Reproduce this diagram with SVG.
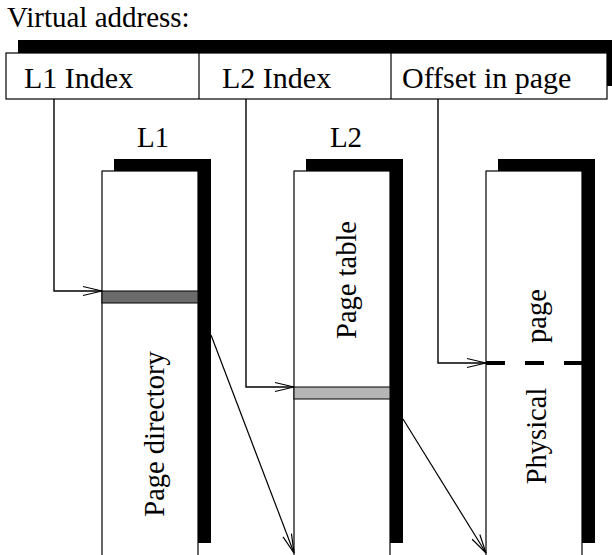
<svg xmlns="http://www.w3.org/2000/svg" width="612" height="555" viewBox="0 0 612 555">
  <style>
    .lbl { font-size: 29px; fill: #000; }
    .field { font-size: 30px; fill: #000; }
    .side { font-size: 28.5px; fill: #000; }
    .shadow { fill: #000; stroke: none; }
    .box { fill: #fff; stroke: #000; stroke-width: 1.2; }
    .wire { fill: none; stroke: #000; stroke-width: 1.4; }
    .diag { fill: none; stroke: #000; stroke-width: 1.2; }
  </style>
  <defs>
    <marker id="open-arrow" markerUnits="userSpaceOnUse" markerWidth="24" markerHeight="14" viewBox="-20 -7 24 14" refX="0" refY="0" orient="auto" overflow="visible">
      <path d="M-19,-4.5 L0,0 L-19,4.5" fill="none" stroke="#000" stroke-width="1.2"/>
    </marker>
  </defs>
  <rect width="612" height="555" fill="#fff"/>

  <g font-family="'Liberation Serif', 'Times New Roman', Times, serif">
  <text class="lbl" x="7" y="27">Virtual address:</text>

  <!-- virtual address register -->
  <g id="address">
    <rect class="shadow" x="18" y="40" width="610" height="46"/>
    <rect class="box" x="6" y="53" width="601" height="46"/>
    <line x1="199" y1="53" x2="199" y2="99" stroke="#000" stroke-width="1.2"/>
    <line x1="391" y1="53" x2="391" y2="99" stroke="#000" stroke-width="1.2"/>
    <text class="field" x="24" y="88">L1 Index</text>
    <text class="field" x="222" y="88">L2 Index</text>
    <text class="field" x="402" y="88">Offset in page</text>
  </g>

  <!-- level 1: page directory -->
  <g id="page-directory">
    <text class="lbl" x="153" y="147" text-anchor="middle">L1</text>
    <rect class="shadow" x="114" y="159" width="97" height="384"/>
    <rect class="box" x="102" y="171" width="96" height="390"/>
    <rect x="102" y="291" width="96" height="12" fill="#6b6b6b" stroke="#000" stroke-width="1"/>
    <text class="side" transform="translate(164,434) rotate(-90)" text-anchor="middle">Page directory</text>
  </g>

  <!-- level 2: page table -->
  <g id="page-table">
    <text class="lbl" x="346" y="147" text-anchor="middle">L2</text>
    <rect class="shadow" x="306" y="159" width="97" height="384"/>
    <rect class="box" x="294" y="171" width="96" height="390"/>
    <rect x="294" y="387" width="96" height="12" fill="#b5b5b5" stroke="#000" stroke-width="1"/>
    <text class="side" transform="translate(356,280) rotate(-90)" text-anchor="middle">Page table</text>
  </g>

  <!-- physical page -->
  <g id="physical-page">
    <rect class="shadow" x="498" y="159" width="97" height="384"/>
    <rect class="box" x="486" y="171" width="96" height="390"/>
    <line x1="486" y1="363" x2="583" y2="363" stroke="#000" stroke-width="4" stroke-dasharray="19 20"/>
    <text class="side" transform="translate(546,316) rotate(-90)" text-anchor="middle">page</text>
    <text class="side" transform="translate(546,436) rotate(-90)" text-anchor="middle">Physical</text>
  </g>
  </g>

  <!-- connectors -->
  <g id="connectors">
    <polyline class="wire" points="54,99 54,291 102,291" marker-end="url(#open-arrow)"/>
    <polyline class="wire" points="246,99 246,387 294,387" marker-end="url(#open-arrow)"/>
    <polyline class="wire" points="438,99 438,363 486,363" marker-end="url(#open-arrow)"/>
    <line class="diag" x1="211" y1="335" x2="294" y2="553" marker-end="url(#open-arrow)"/>
    <line class="diag" x1="403" y1="419" x2="486" y2="553" marker-end="url(#open-arrow)"/>
  </g>
</svg>
